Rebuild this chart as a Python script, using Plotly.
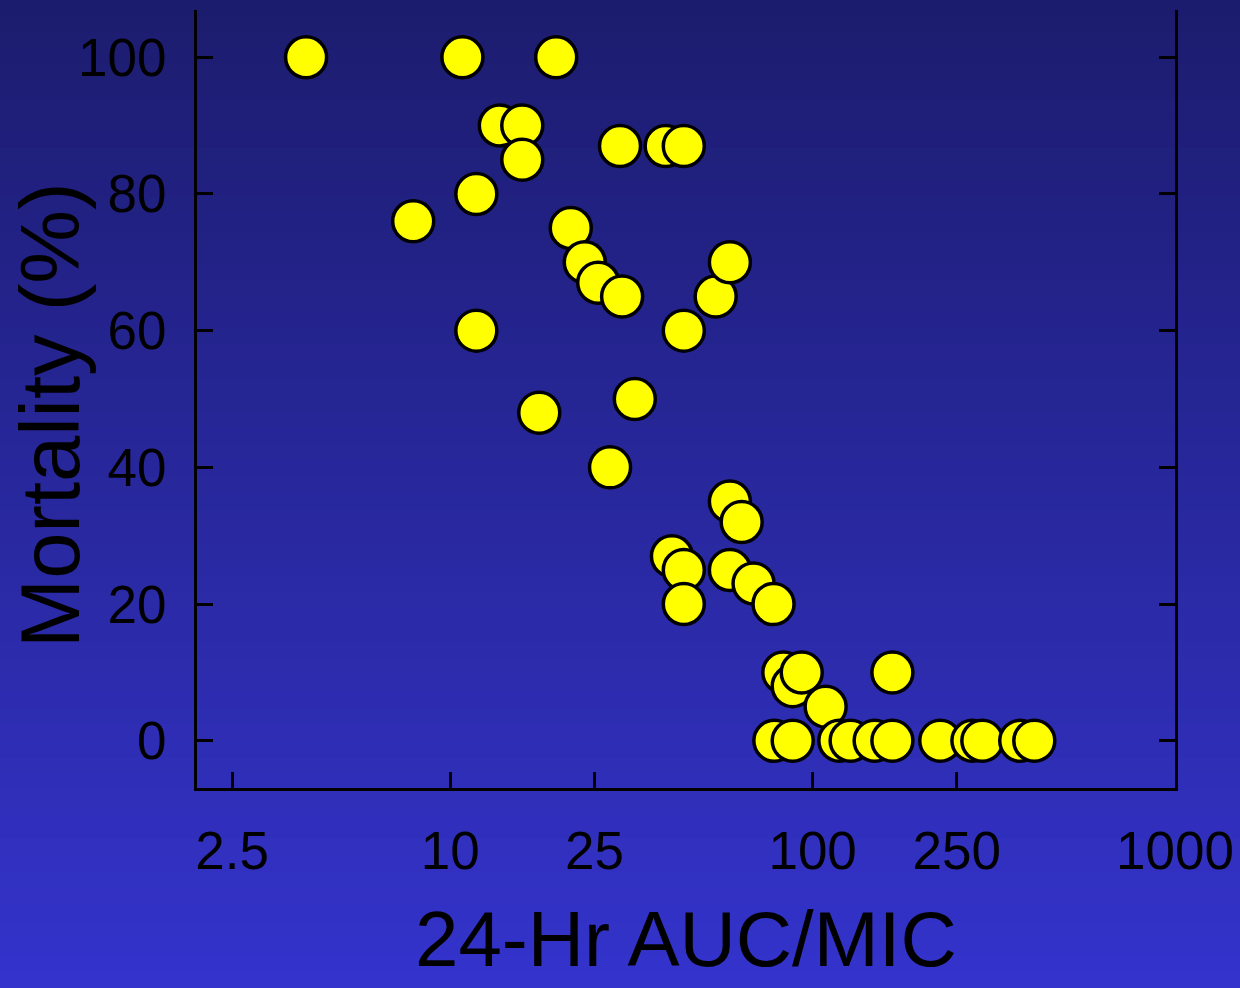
import plotly.graph_objects as go

# Data
auc_mic = [4.0, 7.9, 10.8, 11.8, 11.8, 13.7, 15.8, 15.8, 17.6, 19.6,
           21.5, 23.5, 25.6, 27.6, 29.4, 29.8, 32.3, 39.3, 40.9, 44.1,
           44.1, 44.1, 44.1, 54.0, 59.1, 59.1, 63.7, 59.1, 68.7, 78.0,
           78.4, 83.0, 88.1, 88.1, 93.3, 108.6, 118.5, 127.3, 148.3, 166.0,
           166.0, 225.0, 276.0, 294.0, 374.0, 409.0]
mortality = [100, 76, 100, 80, 60, 90, 90, 85, 48, 100,
             75, 70, 67, 40, 87, 65, 50, 87, 27, 87,
             60, 25, 20, 65, 70, 35, 32, 25, 23, 20,
             0, 10, 8, 0, 10, 5, 0, 0, 0, 0,
             10, 0, 0, 0, 0, 0]

x_ticks = [2.5, 10, 25, 100, 250, 1000]
x_tick_labels = ["2.5", "10", "25", "100", "250", "1000"]
y_ticks = [0, 20, 40, 60, 80, 100]
x_title = "24-Hr AUC/MIC"
y_title = "Mortality (%)"

FONT = "Liberation Sans, Arial, sans-serif"
W, H = 1240, 988
ML, MR, MT, MB = 197, 65, 10, 200
plot_w = W - ML - MR
plot_h = H - MT - MB

fig = go.Figure()
fig.add_trace(go.Scatter(
    x=auc_mic, y=mortality, mode="markers",
    marker=dict(size=41, color="#ffff00", line=dict(color="black", width=3.5)),
    hoverinfo="x+y", showlegend=False,
))

# vertical gradient background (decoration)
top_c = (28, 28, 110)
bot_c = (52, 51, 204)
n = 60
shapes = []
for i in range(n):
    y_top_px = H * i / n
    y_bot_px = H * (i + 1) / n
    t = (i + 0.5) / n
    c = tuple(round(top_c[k] + (bot_c[k] - top_c[k]) * t) for k in range(3))
    shapes.append(dict(
        type="rect", xref="paper", yref="paper",
        x0=-1, x1=2,
        y0=(H - MB - y_bot_px) / plot_h - 0.001,
        y1=(H - MB - y_top_px) / plot_h + 0.001,
        fillcolor="rgb(%d,%d,%d)" % c, line=dict(width=0), layer="below",
    ))

fig.update_layout(
    width=W, height=H,
    margin=dict(l=ML, r=MR, t=MT, b=MB, autoexpand=False),
    paper_bgcolor="rgb(%d,%d,%d)" % bot_c,
    plot_bgcolor="rgba(0,0,0,0)",
    shapes=shapes,
    font=dict(family=FONT, color="black"),
    xaxis=dict(
        type="log", range=[0.301, 3.0], automargin=False,
        tickvals=x_ticks, ticktext=x_tick_labels,
        ticks="inside", ticklen=16, tickwidth=3, tickcolor="black",
        showline=True, linewidth=3, linecolor="black", mirror=False,
        showgrid=False, zeroline=False,
        tickfont=dict(size=53, family=FONT, color="black"),
        ticklabelstandoff=14,
    ),
    yaxis=dict(
        range=[-6.9, 106.9], automargin=False,
        tickvals=y_ticks,
        ticks="inside", ticklen=16, tickwidth=3, tickcolor="black",
        showline=True, linewidth=3, linecolor="black", mirror="ticks",
        showgrid=False, zeroline=False,
        tickfont=dict(size=53, family=FONT, color="black"),
        ticklabelstandoff=17,
    ),
    annotations=[
        dict(text=x_title, xref="paper", yref="paper",
             x=(686 - ML) / plot_w, y=-(939 - (H - MB)) / plot_h,
             xanchor="center", yanchor="middle", showarrow=False,
             font=dict(size=78, family=FONT, color="black")),
        dict(text=y_title, xref="paper", yref="paper",
             x=(50 - ML) / plot_w, y=((H - MB) - 415) / plot_h,
             xanchor="center", yanchor="middle", textangle=-90, showarrow=False,
             font=dict(size=83, family=FONT, color="black")),
    ],
)

fig.write_html("out.html")
